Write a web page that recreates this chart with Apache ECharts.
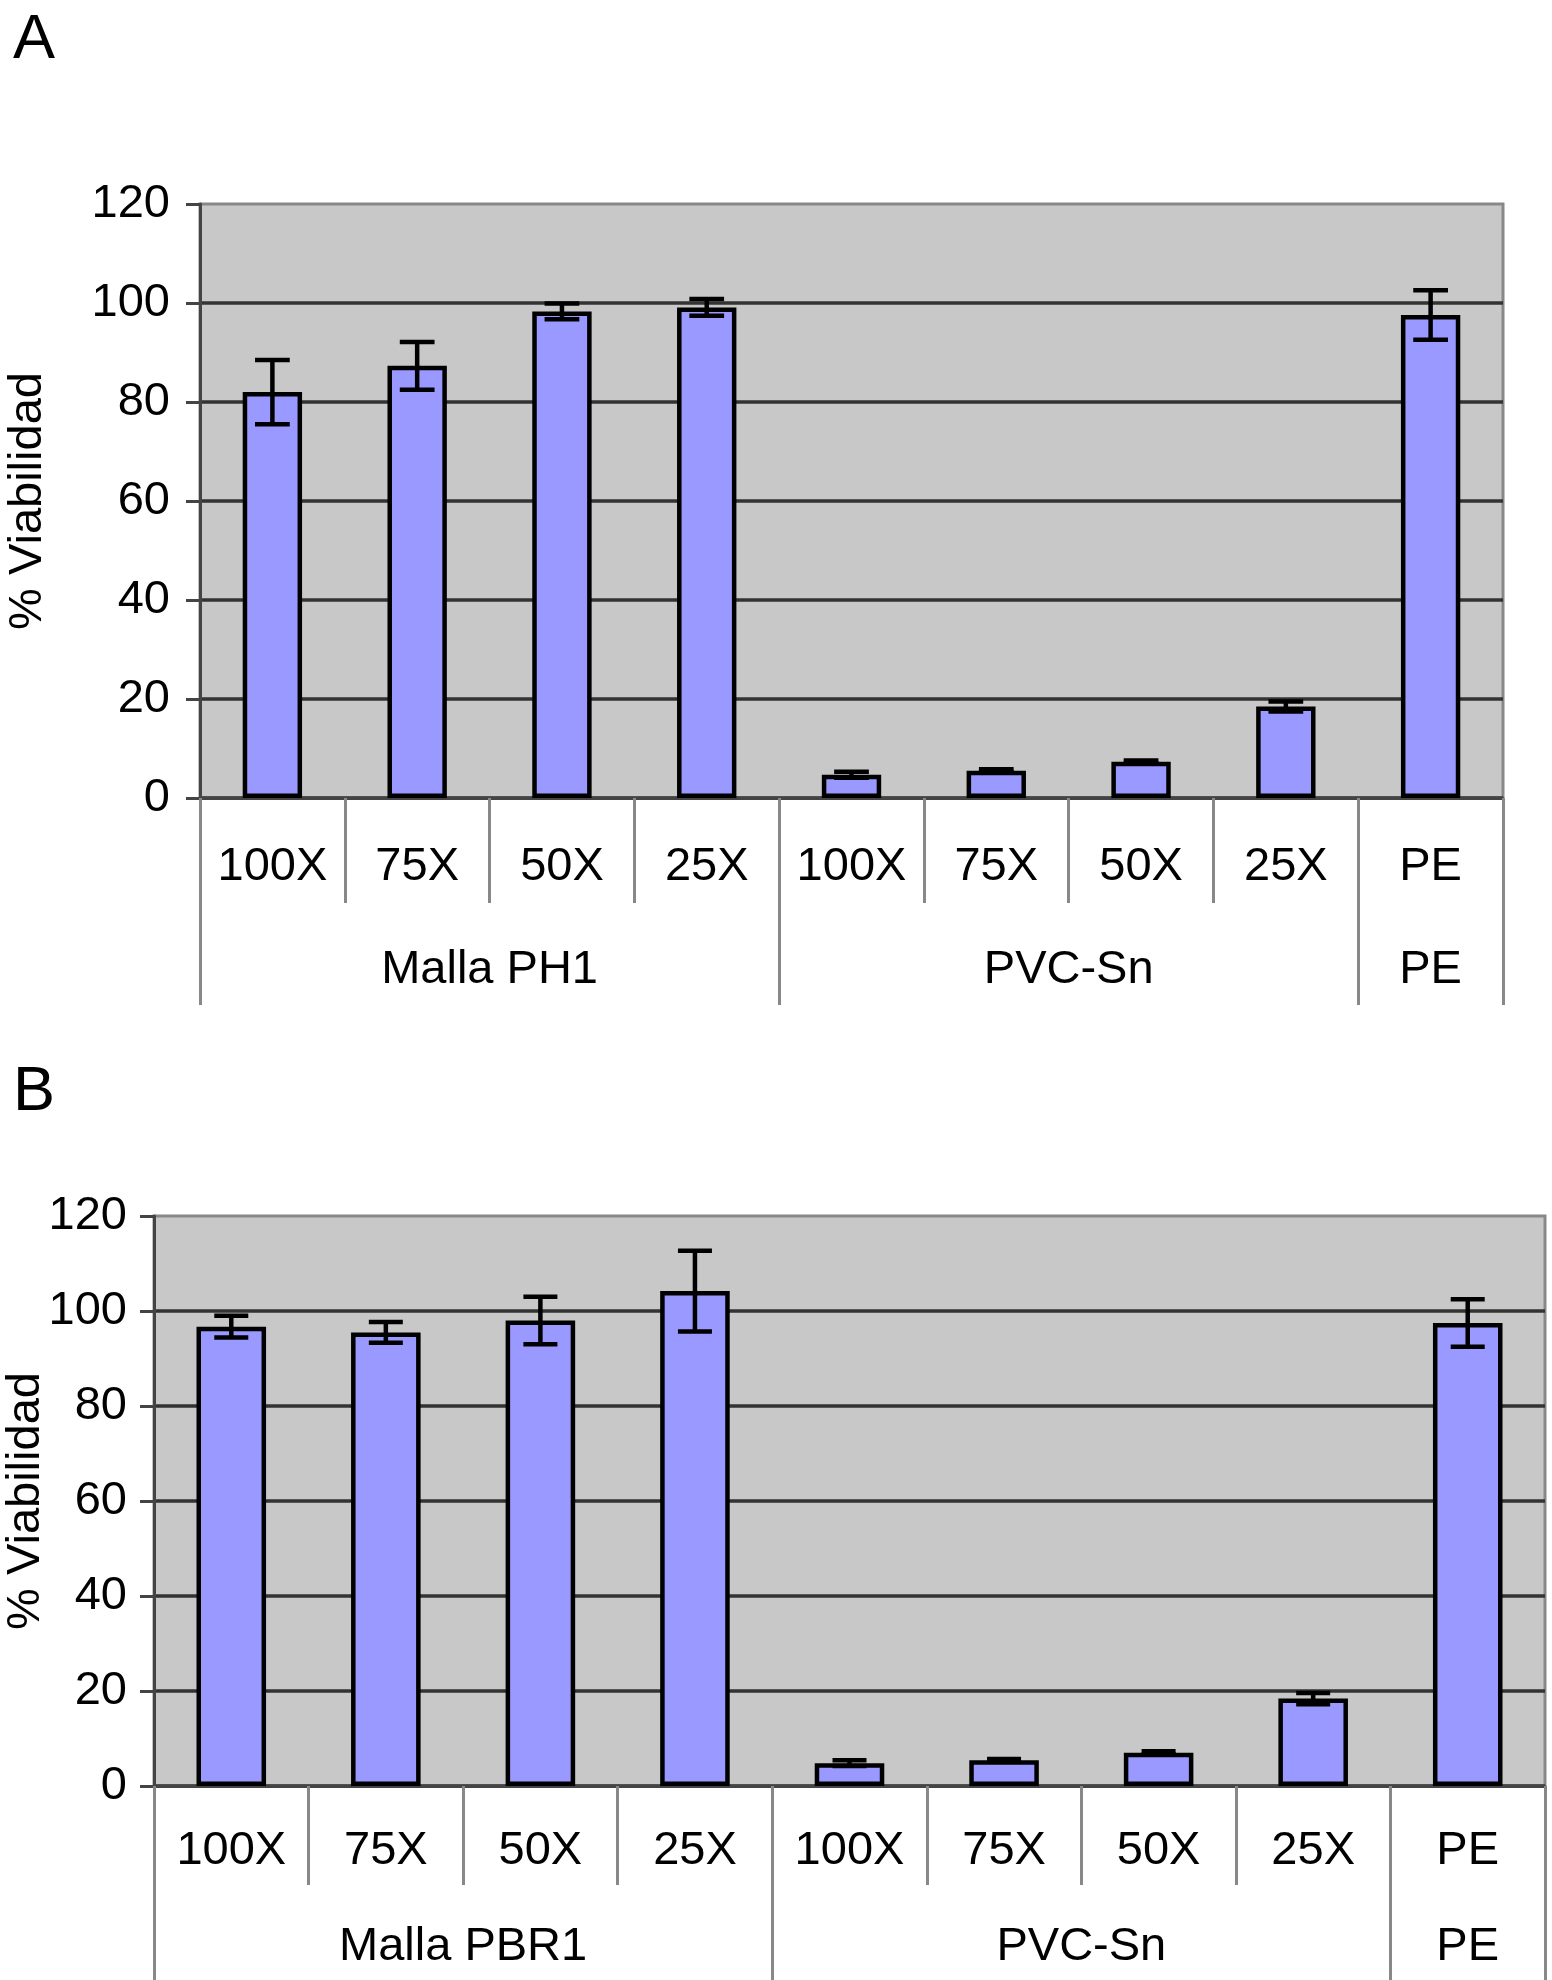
<!DOCTYPE html>
<html>
<head>
<meta charset="utf-8">
<script src="https://cdn.jsdelivr.net/npm/echarts@6/dist/echarts.min.js"></script>
<style>
html,body{margin:0;padding:0;background:#fff;}
#chart{width:1552px;height:1980px;}
</style>
</head>
<body>
<div id="chart"></div>
<script>
// ---- data ----
const categories = ['100X','75X','50X','25X','100X','75X','50X','25X','PE'];
const groupsA = ['Malla PH1','PVC-Sn','PE'];
const groupsB = ['Malla PBR1','PVC-Sn','PE'];
const groupSizes = [4,4,1];
const valuesA = [82.0, 87.3, 98.3, 99.1, 4.7, 5.5, 7.3, 18.5, 97.6];
const errorsA = [6.5, 4.8, 1.6, 1.7, 0.6, 0.3, 0.3, 1.0, 5.0];
const valuesB = [96.7, 95.5, 98.0, 104.2, 4.8, 5.4, 7.0, 18.4, 97.5];
const errorsB = [2.3, 2.2, 5.0, 8.5, 0.6, 0.3, 0.3, 1.2, 5.0];
const yMin = 0, yMax = 120, yStep = 20;
const yTitle = '% Viabilidad';
const panelLabels = ['A','B'];

// ---- helpers ----
const FONT = "'Liberation Sans', Arial, sans-serif";
const FS = 47;
const total = groupSizes.reduce((a,b)=>a+b,0);
const halfPoints = [];
for (let k=0;k<=2*total;k++) halfPoints.push(String(k));
const boundaryIdx = new Set([0]);
const labelIdx = {};
(function(){
  let cum = 0;
  groupSizes.forEach((n,g)=>{
    labelIdx[2*cum + n] = g;
    cum += n;
    boundaryIdx.add(2*cum);
  });
})();

function errData(vals, errs){
  return vals.map((v,i)=>[i, v-errs[i], v+errs[i]]);
}

function errRender(capFrac){
  return function(params, api){
    const x = api.value(0);
    const lo = api.coord([x, api.value(1)]);
    const hi = api.coord([x, api.value(2)]);
    const half = api.size([1,0])[0]*capFrac;
    const st = {stroke:'#000', lineWidth:4.5};
    return {type:'group', children:[
      {type:'line', shape:{x1:lo[0],y1:lo[1],x2:hi[0],y2:hi[1]}, style:st},
      {type:'line', shape:{x1:hi[0]-half,y1:hi[1],x2:hi[0]+half,y2:hi[1]}, style:st},
      {type:'line', shape:{x1:lo[0]-half,y1:lo[1],x2:lo[0]+half,y2:lo[1]}, style:st}
    ]};
  };
}

function catAxis(gridIndex, margin, tickLen){
  return {
    type:'category', gridIndex, data:categories, position:'bottom',
    axisLine:{show:true, lineStyle:{color:'#444', width:3}},
    axisTick:{show:true, length:tickLen, alignWithLabel:false, lineStyle:{color:'#888', width:3}},
    axisLabel:{interval:0, margin, verticalAlign:'middle', color:'#000', fontSize:FS, fontFamily:FONT},
    splitLine:{show:false}
  };
}
function groupAxis(gridIndex, names, margin, tickLen){
  return {
    type:'category', gridIndex, data:halfPoints, position:'bottom', boundaryGap:false,
    axisLine:{show:false},
    axisTick:{show:true, length:tickLen, interval:(i)=>boundaryIdx.has(i), lineStyle:{color:'#888', width:3}},
    axisLabel:{interval:(i)=>labelIdx[i]!==undefined, formatter:(v,i)=>labelIdx[i]!==undefined?names[labelIdx[i]]:'',
      margin, verticalAlign:'middle', color:'#000', fontSize:FS, fontFamily:FONT},
    splitLine:{show:false}
  };
}
function valAxis(gridIndex, nameGap, labelMargin){
  return {
    type:'value', gridIndex, min:yMin, max:yMax, interval:yStep,
    name:yTitle, nameLocation:'middle', nameGap, nameRotate:90, nameMoveOverlap:false,
    nameTextStyle:{color:'#000', fontSize:FS, fontFamily:FONT},
    axisLine:{show:true, lineStyle:{color:'#444', width:3}},
    axisTick:{show:true, length:14, lineStyle:{color:'#444', width:3}},
    axisLabel:{margin:labelMargin, color:'#000', fontSize:FS, fontFamily:FONT},
    splitLine:{show:true, showMaxLine:false, lineStyle:{color:'#333', width:3.5}}
  };
}

const chart = echarts.init(document.getElementById('chart'), null, {renderer:'canvas'});
chart.setOption({
  backgroundColor:'#fff',
  animation:false,
  title:[
    {text:panelLabels[0], left:8, top:4, textStyle:{fontSize:63, fontWeight:'normal', color:'#000', fontFamily:FONT}},
    {text:panelLabels[1], left:8, top:1056, textStyle:{fontSize:63, fontWeight:'normal', color:'#000', fontFamily:FONT}}
  ],
  grid:[
    {left:200, top:204, width:1303, height:594, show:true, backgroundColor:'#c8c8c8', borderColor:'#888', borderWidth:3, containLabel:false, outerBoundsMode:'none'},
    {left:154, top:1216, width:1391, height:570, show:true, backgroundColor:'#c8c8c8', borderColor:'#888', borderWidth:3, containLabel:false, outerBoundsMode:'none'}
  ],
  xAxis:[
    catAxis(0, 69, 105),
    groupAxis(0, groupsA, 172, 207),
    catAxis(1, 65, 99),
    groupAxis(1, groupsB, 161, 196)
  ],
  yAxis:[ valAxis(0, 148, 30), valAxis(1, 104, 27) ],
  series:[
    {type:'bar', xAxisIndex:0, yAxisIndex:0, data:valuesA, barWidth:'41%',
     itemStyle:{color:'#9999ff', borderColor:'#000', borderWidth:4.5}},
    {type:'custom', xAxisIndex:0, yAxisIndex:0, data:errData(valuesA, errorsA), renderItem:errRender(0.12), encode:{x:0, y:[1,2]}, z:5},
    {type:'bar', xAxisIndex:2, yAxisIndex:1, data:valuesB, barWidth:'45%',
     itemStyle:{color:'#9999ff', borderColor:'#000', borderWidth:4.5}},
    {type:'custom', xAxisIndex:2, yAxisIndex:1, data:errData(valuesB, errorsB), renderItem:errRender(0.11), encode:{x:0, y:[1,2]}, z:5}
  ]
});
</script>
</body>
</html>
